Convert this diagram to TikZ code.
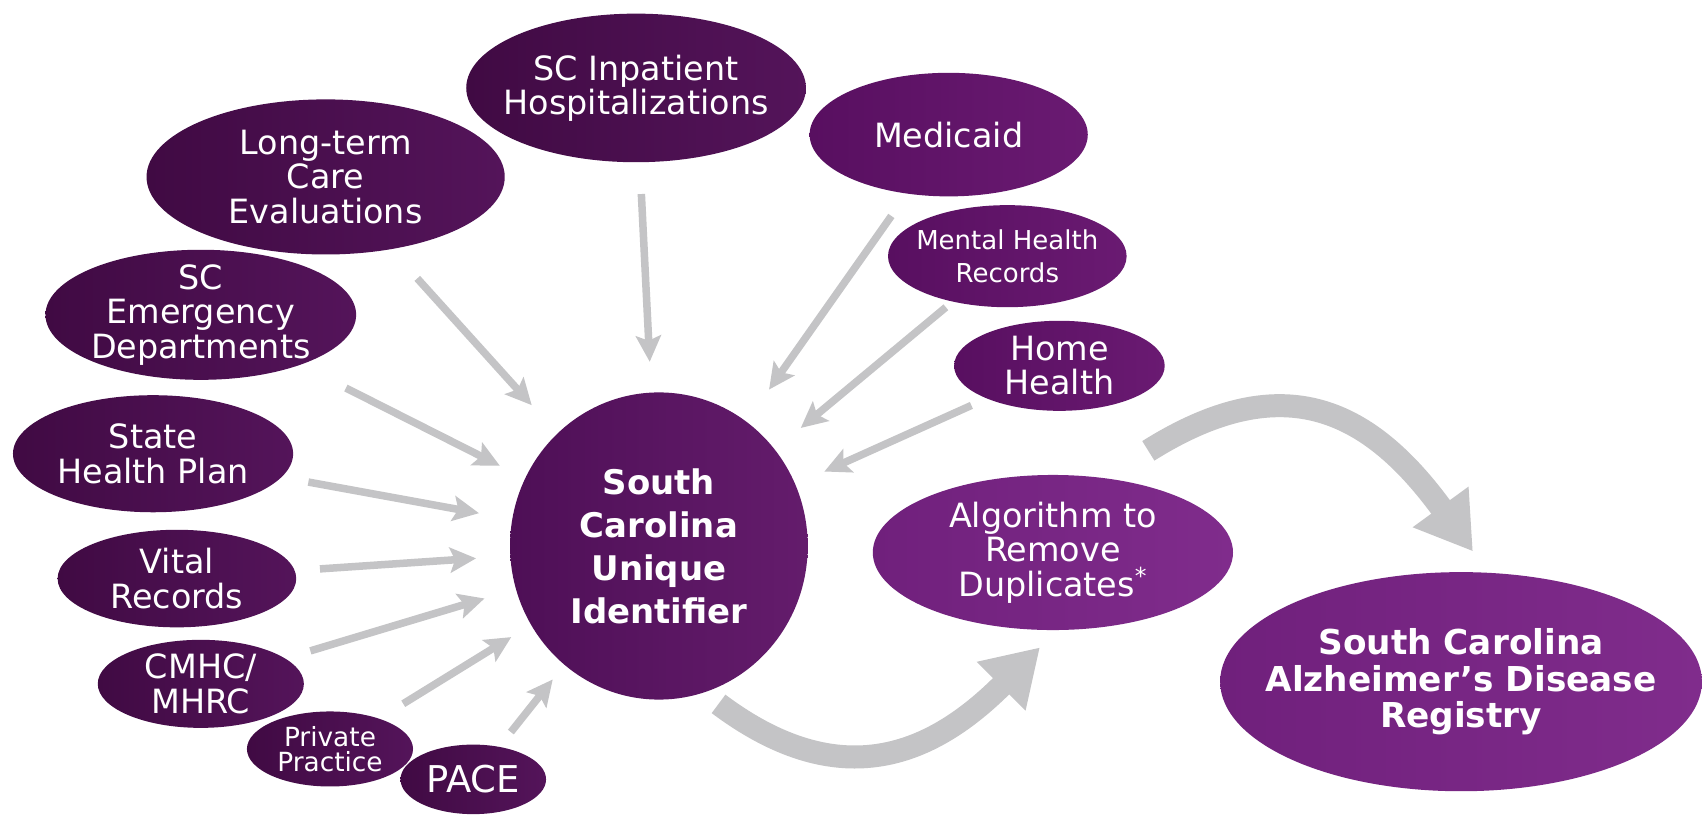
\documentclass[tikz,border=0pt]{standalone}
\usepackage{fontspec}
\setmainfont{DejaVu Sans}
\usetikzlibrary{arrows.meta,shapes.geometric}

\definecolor{arrowgray}{RGB}{196,196,198}
\definecolor{plumA}{RGB}{64,10,67}
\definecolor{plumB}{RGB}{84,20,90}
\definecolor{grapeA}{RGB}{88,15,96}
\definecolor{grapeB}{RGB}{106,26,114}
\definecolor{coreA}{RGB}{78,15,86}
\definecolor{coreB}{RGB}{100,28,108}
\definecolor{lilacA}{RGB}{112,32,124}
\definecolor{lilacB}{RGB}{128,44,140}

\begin{document}
\begin{tikzpicture}[x=0.0217cm, y=-0.0217cm,
    source/.style={ellipse, inner sep=-2cm, align=center, text=white,
        left color=plumA, right color=plumB, font=\fontsize{19}{19.5}\selectfont},
    bright/.style={left color=grapeA, right color=grapeB},
    feed/.style={draw=arrowgray, line width=0.15cm,
        -{Stealth[length=0.52cm, width=0.5cm, inset=0.1cm]}},
    sweep/.style={draw=arrowgray, line width=0.46cm,
        -{Triangle[length=1.1cm, width=1.3cm]}}]
    \useasboundingbox (0, 0) rectangle (1568, 750);
    \fill[white] (0, 0) rectangle (1568, 750);

    % data sources
    \node[source, minimum width=6.79cm, minimum height=2.97cm] (inpat) at (586, 81) {SC Inpatient\\Hospitalizations};
    \node[source, bright, minimum width=5.56cm, minimum height=2.47cm] (medicaid) at (874, 124) {Medicaid};
    \node[source, minimum width=7.16cm, minimum height=3.10cm] (ltc) at (300, 163) {Long-term\\Care\\Evaluations};
    \node[source, bright, minimum width=4.77cm, minimum height=2.04cm, font=\fontsize{14.8}{18.5}\selectfont] (mhr) at (928, 236) {Mental Health\\Records};
    \node[source, bright, minimum width=4.21cm, minimum height=1.80cm] (home) at (976, 337) {Home\\Health};
    \node[source, minimum width=6.21cm, minimum height=2.60cm] (emerg) at (185, 290) {SC\\Emergency\\Departments};
    \node[source, minimum width=5.60cm, minimum height=2.34cm] (shp) at (141, 418) {State\\Health Plan};
    \node[source, minimum width=4.77cm, minimum height=1.95cm] (vital) at (163, 533) {Vital\\Records};
    \node[source, minimum width=4.12cm, minimum height=1.76cm] (cmhc) at (185, 630) {CMHC/\\MHRC};
    \node[source, minimum width=3.32cm, minimum height=1.50cm, font=\fontsize{15}{14.5}\selectfont] (priv) at (304, 690) {Private\\Practice};
    \node[source, minimum width=2.91cm, minimum height=1.39cm, font=\fontsize{21}{21}\selectfont] (pace) at (436, 718) {PACE};

    % identifier, de-duplication and registry
    \node[source, left color=coreA, right color=coreB, minimum width=5.95cm, minimum height=6.14cm, font=\bfseries\fontsize{19.3}{24.5}\selectfont] (uid) at (607, 503) {South\\Carolina\\Unique\\Identifier};
    \node[source, left color=lilacA, right color=lilacB, minimum width=7.20cm, minimum height=3.10cm] (algo) at (970, 509) {Algorithm to\\Remove\\Duplicates\textsuperscript{*}};
    \node[source, left color=lilacA, right color=lilacB, minimum width=9.63cm, minimum height=4.38cm, font=\bfseries\fontsize{19.5}{21}\selectfont] (reg) at (1346, 628) {South Carolina\\Alzheimer’s Disease\\Registry};

    \draw[feed, shorten <=0.78cm, shorten >=0.76cm] (ltc) -- (uid);
    \draw[feed, shorten <=0.63cm, shorten >=0.61cm] (inpat) -- (uid);
    \draw[feed, shorten <=0.54cm, shorten >=0.78cm] (medicaid) -- (uid);
    \draw[feed, shorten <=0.17cm, shorten >=0.67cm] (mhr) -- (uid);
    \draw[feed, shorten <=0.33cm, shorten >=0.63cm] (home) -- (uid);
    \draw[feed, shorten <=1.02cm, shorten >=0.56cm] (emerg) -- (uid);
    \draw[feed, shorten <=0.54cm, shorten >=0.67cm] (shp) -- (uid);
    \draw[feed, shorten <=0.50cm, shorten >=0.68cm] (vital) -- (uid);
    \draw[feed, shorten <=0.52cm, shorten >=0.65cm] (cmhc) -- (uid);
    \draw[feed, shorten <=0.56cm, shorten >=0.46cm] (priv) -- (uid);
    \draw[feed, shorten <=0.37cm, shorten >=0.37cm] (pace) -- (uid);

    \draw[sweep, shorten <=0.37cm, shorten >=0.48cm] (uid.-73) .. controls +(128, 96) and +(-113, 113) .. (algo.-87);
    \draw[sweep, shorten <=1.02cm, shorten >=0.52cm] (algo.55) .. controls +(161, -101) and +(-112, -154) .. (reg.76);
    %\draw[sweep] (algo) -- (reg);
\end{tikzpicture}
\end{document}
